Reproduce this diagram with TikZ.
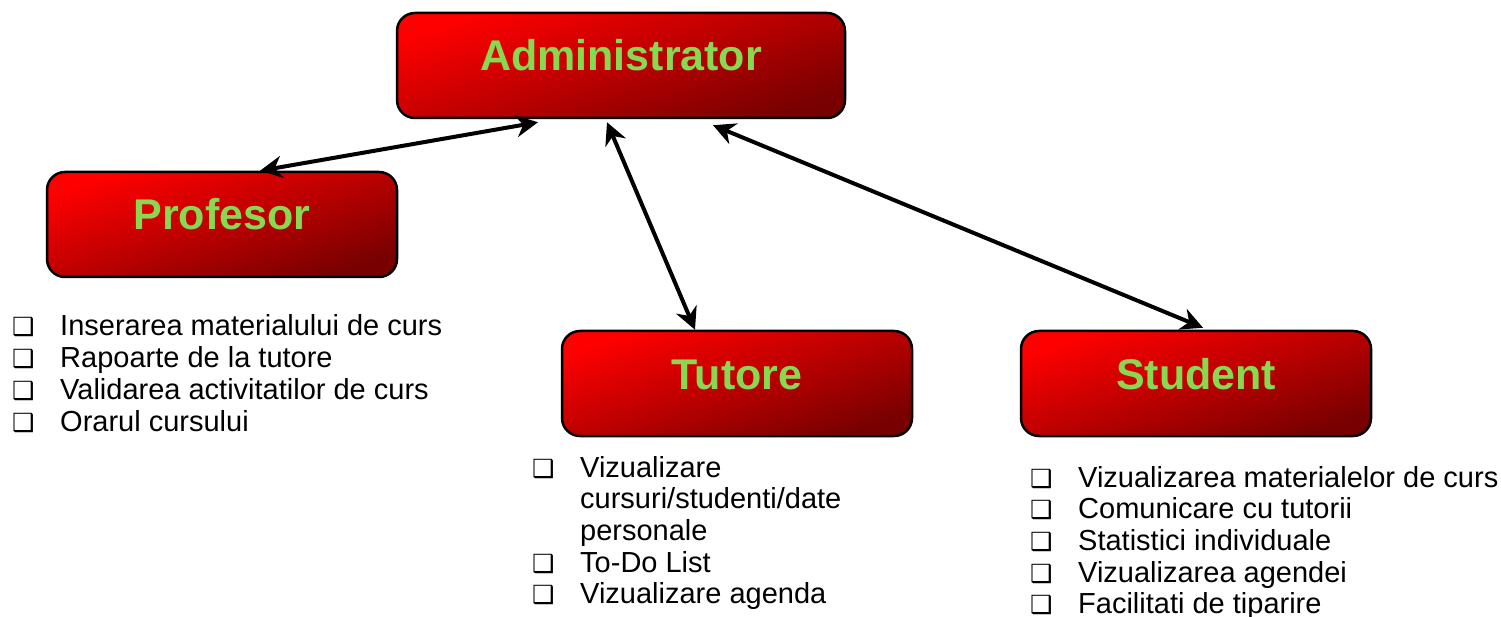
\documentclass[tikz,border=0pt]{standalone}
\usepackage{fontspec}
\setmainfont{Liberation Sans}
\newfontfamily\dejavu{DejaVu Sans}
\usetikzlibrary{arrows.meta,calc}
\definecolor{lbl}{RGB}{136,216,80}
\definecolor{darkred}{RGB}{120,0,0}
\newcommand{\chk}{\makebox[48pt][l]{\dejavu\fontsize{25}{25}\selectfont ❑}}
\begin{document}
\begin{tikzpicture}[x=1pt,y=-1pt,
  rolebox/.style={draw=black, line width=2.5pt, rounded corners=18pt,
    top color=red, bottom color=darkred, shading angle=18,
    minimum height=105pt, minimum width=350pt, inner sep=0pt,
    text height=58pt, text depth=47pt, text=lbl, anchor=base,
    font=\fontsize{43}{43}\selectfont\bfseries},
  link/.style={line width=4pt,
    {Stealth[length=22pt,width=22pt,inset=7pt]}-{Stealth[length=22pt,width=22pt,inset=7pt]}},
  tasks/.style={anchor=base west, inner sep=0pt, font=\fontsize{29}{31.7}\selectfont}]
\useasboundingbox (0,0) rectangle (1501,617);

\node[rolebox, minimum width=448pt] (admin) at (621,71) {Administrator};
\node[rolebox] (prof) at (222,230) {Profesor};
\node[rolebox] (tutor) at (737,389) {Tutore};
\node[rolebox] (stud) at (1196,389) {Student};

\draw[link] ($(prof.north)+(38,0)$) -- ($(admin.south)+(-83,3)$);
\draw[link] ($(admin.south)+(-14,3)$) -- ($(tutor.north)+(-42,0)$);
\draw[link] ($(admin.south)+(92,6)$) -- ($(stud.north)+(7,-2)$);

\node[tasks] (proflist) at (12,336) {\begin{tabular}[t]{@{}l@{}l@{}}
\chk & Inserarea materialului de curs\\
\chk & Rapoarte de la tutore\\
\chk & Validarea activitatilor de curs\\
\chk & Orarul cursului
\end{tabular}};

\node[tasks] (tutorlist) at (532,477) {\begin{tabular}[t]{@{}l@{}l@{}}
\chk & Vizualizare\\
 & cursuri/studenti/date\\
 & personale\\
\chk & To-Do List\\
\chk & Vizualizare agenda
\end{tabular}};

\node[tasks] (studlist) at (1030,487) {\begin{tabular}[t]{@{}l@{}l@{}}
\chk & Vizualizarea materialelor de curs\\
\chk & Comunicare cu tutorii\\
\chk & Statistici individuale\\
\chk & Vizualizarea agendei\\
\chk & Facilitati de tiparire
\end{tabular}};
\end{tikzpicture}
\end{document}
